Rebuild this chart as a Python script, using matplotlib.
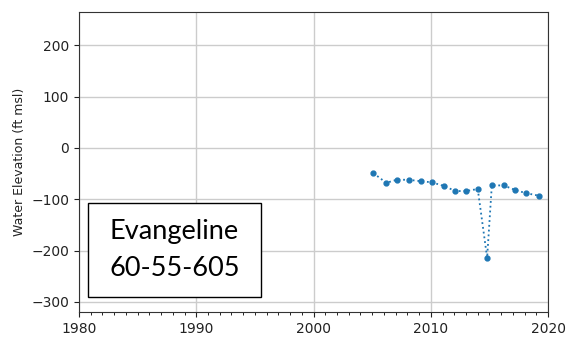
import matplotlib
matplotlib.use("Agg")
import matplotlib.pyplot as plt
from matplotlib.ticker import MultipleLocator
from matplotlib.patches import Rectangle

years = [2005.1, 2006.2, 2007.1, 2008.1, 2009.2, 2010.1, 2011.1, 2012.1, 2013.0,
         2014.0, 2014.8, 2015.2, 2016.2, 2017.2, 2018.1, 2019.2]
elev = [-49, -68, -62, -62, -65, -67, -74, -84, -84, -80, -214, -73, -73, -82, -88, -93]
label_lines = ["Evangeline", "60-55-605"]

fig = plt.figure(figsize=(5.68, 3.43), dpi=100)
ax = fig.add_axes([0.139, 0.090, 0.826, 0.875])
ax.plot(years, elev, linestyle=':', marker='o', markersize=3.5, color='#1f77b4', linewidth=1.3)
ax.set_xlim(1980, 2020)
ax.set_ylim(-320, 265)
ax.set_xticks([1980, 1990, 2000, 2010, 2020])
ax.set_yticks([-300, -200, -100, 0, 100, 200])
ax.xaxis.set_minor_locator(MultipleLocator(1))
ax.grid(True, color='#cccccc', linewidth=1)
ax.set_axisbelow(True)
ax.tick_params(labelsize=10, colors='#222222')
ax.set_ylabel('Water Elevation (ft msl)', fontsize=9, color='#222222')
for s in ax.spines.values():
    s.set_color('#333333')
ax.add_patch(Rectangle((0.019, 0.05), 0.369, 0.313, transform=ax.transAxes,
                       facecolor='white', edgecolor='black', linewidth=1, zorder=5))
ax.text(0.2036, 0.27, label_lines[0], transform=ax.transAxes, ha='center', va='center',
        fontsize=19.5, family='Lato', zorder=6)
ax.text(0.2036, 0.147, label_lines[1], transform=ax.transAxes, ha='center', va='center',
        fontsize=19.5, family='Lato', zorder=6)
fig.savefig('out.png', dpi=100)
